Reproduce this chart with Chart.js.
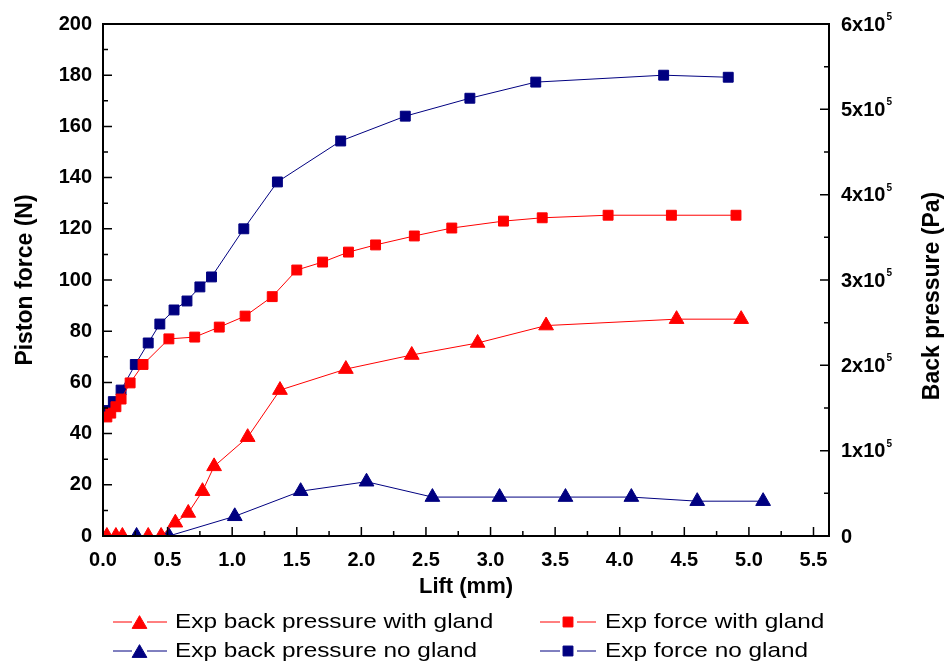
<!DOCTYPE html>
<html>
<head>
<meta charset="utf-8">
<script src="https://cdn.jsdelivr.net/npm/chart.js@4.4.0/dist/chart.umd.min.js"></script>
<style>
  html, body { margin: 0; padding: 0; background: #fff; }
</style>
</head>
<body>
<canvas id="liftChart" width="947" height="668"></canvas>
<script>
// tick values
const xTicks = [0, 0.5, 1.0, 1.5, 2.0, 2.5, 3.0, 3.5, 4.0, 4.5, 5.0, 5.5];
const forceTicks = [0, 20, 40, 60, 80, 100, 120, 140, 160, 180, 200];
const pressureTicks = [0, 1e5, 2e5, 3e5, 4e5, 5e5, 6e5];

// Exp back pressure with gland (Pa)
const bpWithLift = [0.03, 0.10, 0.15, 0.35, 0.45, 0.56, 0.66, 0.77, 0.86, 1.12, 1.37, 1.88, 2.39, 2.90, 3.43, 4.44, 4.94];
const bpWith = [0, 0, 0, 0, 0, 15600, 27000, 52500, 81600, 115800, 171000, 195600, 212100, 226200, 246600, 254100, 254100];

// Exp force with gland (N)
const forceWithLift = [0.03, 0.06, 0.10, 0.14, 0.21, 0.31, 0.51, 0.71, 0.90, 1.10, 1.31, 1.50, 1.70, 1.90, 2.11, 2.41, 2.70, 3.10, 3.40, 3.91, 4.40, 4.90];
const forceWith = [46.5, 48, 50.5, 53.5, 59.8, 67, 77, 77.7, 81.6, 85.9, 93.5, 103.9, 107, 110.9, 113.7, 117.2, 120.3, 123, 124.3, 125.3, 125.3, 125.3];

// Exp back pressure no gland (Pa)
const bpNoLift = [0.26, 0.51, 1.02, 1.53, 2.04, 2.55, 3.07, 3.58, 4.09, 4.60, 5.11];
const bpNo = [0, 0, 23100, 52500, 63600, 45600, 45600, 45600, 45600, 40800, 40800];

// Exp force no gland (N)
const forceNoLift = [0.02, 0.04, 0.08, 0.14, 0.25, 0.35, 0.44, 0.55, 0.65, 0.75, 0.84, 1.09, 1.35, 1.84, 2.34, 2.84, 3.35, 4.34, 4.84];
const forceNo = [47, 49, 52.5, 57, 67, 75.4, 82.8, 88.3, 91.8, 97.3, 101.2, 120, 138.3, 154.3, 164, 171, 177.3, 180, 179.2];

const RED = '#ff0000';
const NAVY = '#000080';

function pts(xs, ys) {
    return xs.map((x, i) => ({ x: x, y: ys[i] }));
}

function series(label, xs, ys, color, style, axis) {
    return {
        label: label,
        data: pts(xs, ys),
        yAxisID: axis,
        borderColor: color,
        backgroundColor: color,
        borderWidth: 1,
        pointStyle: style,
        pointRadius: style === 'triangle' ? 8.5 : 7,
        pointBorderWidth: 1,
        pointBackgroundColor: color,
        pointBorderColor: color,
        tension: 0
    };
}

const datasets = [
    series('Exp back pressure with gland', bpWithLift, bpWith, RED, 'triangle', 'yPressure'),
    series('Exp force with gland', forceWithLift, forceWith, RED, 'rect', 'yForce'),
    series('Exp back pressure no gland', bpNoLift, bpNo, NAVY, 'triangle', 'yPressure'),
    series('Exp force no gland', forceNoLift, forceNo, NAVY, 'rect', 'yForce')
];

const FONT = '"Liberation Sans", Arial, sans-serif';

// frame, inward ticks, right axis labels/title and legend
const framePlugin = {
    id: 'frame',
    afterDraw(chart) {
        const ctx = chart.ctx;
        const { left, top, right, bottom } = chart.chartArea;
        const sx = chart.scales.x, sf = chart.scales.yForce, sp = chart.scales.yPressure;
        ctx.save();
        ctx.strokeStyle = '#000';
        ctx.lineWidth = 2;
        ctx.strokeRect(left, top, right - left, bottom - top);

        ctx.lineWidth = 1.5;
        ctx.beginPath();
        xTicks.forEach(v => {
            const px = sx.getPixelForValue(v);
            ctx.moveTo(px, bottom); ctx.lineTo(px, bottom - 9);
            if (v + 0.25 < sx.max) {
                const mx = sx.getPixelForValue(v + 0.25);
                ctx.moveTo(mx, bottom); ctx.lineTo(mx, bottom - 5);
            }
        });
        forceTicks.forEach(v => {
            const py = sf.getPixelForValue(v);
            ctx.moveTo(left, py); ctx.lineTo(left + 9, py);
            if (v + 10 < sf.max) {
                const my = sf.getPixelForValue(v + 10);
                ctx.moveTo(left, my); ctx.lineTo(left + 5, my);
            }
        });
        pressureTicks.forEach(v => {
            const py = sp.getPixelForValue(v);
            ctx.moveTo(right, py); ctx.lineTo(right - 9, py);
            if (v + 5e4 < sp.max) {
                const my = sp.getPixelForValue(v + 5e4);
                ctx.moveTo(right, my); ctx.lineTo(right - 5, my);
            }
        });
        ctx.stroke();

        // right tick labels with superscript exponent
        ctx.fillStyle = '#000';
        ctx.textAlign = 'left';
        pressureTicks.forEach(v => {
            const py = sp.getPixelForValue(v);
            const lx = right + 12;
            ctx.font = 'bold 20px ' + FONT;
            ctx.textBaseline = 'middle';
            if (v === 0) {
                ctx.fillText('0', lx, py + 1);
                return;
            }
            const main = (v / 1e5) + 'x10';
            ctx.fillText(main, lx, py + 1);
            const w = ctx.measureText(main).width;
            ctx.font = 'bold 10px ' + FONT;
            ctx.textBaseline = 'alphabetic';
            ctx.fillText('5', lx + w + 1, py - 4);
        });

        // right axis title, reading bottom to top
        ctx.save();
        ctx.translate(933, 296);
        ctx.rotate(-Math.PI / 2);
        ctx.font = 'bold 23px ' + FONT;
        ctx.textAlign = 'center';
        ctx.textBaseline = 'middle';
        ctx.fillText('Back pressure (Pa)', 0, 0);
        ctx.restore();

        // legend in two columns
        const cols = [{ l1: 113, l2: 132, m: 139.5, r1: 147, r2: 167, t: 175 },
                      { l1: 540, l2: 560, m: 568, r1: 577, r2: 596, t: 605 }];
        const rows = [622, 651];
        datasets.forEach((ds, i) => {
            const c = cols[i % 2];
            const y = rows[Math.floor(i / 2)];
            ctx.strokeStyle = ds.borderColor;
            ctx.lineWidth = 1;
            ctx.beginPath();
            ctx.moveTo(c.l1, y); ctx.lineTo(c.l2, y);
            ctx.moveTo(c.r1, y); ctx.lineTo(c.r2, y);
            ctx.stroke();
            ctx.fillStyle = ds.pointBackgroundColor;
            const r = ds.pointRadius;
            Chart.helpers.drawPoint(ctx, {
                pointStyle: ds.pointStyle, radius: r, borderWidth: 1, rotation: 0
            }, c.m, ds.pointStyle === 'triangle' ? y + r / 4 : y);
            ctx.save();
            ctx.translate(c.t, y);
            ctx.scale(1.16, 1);
            ctx.fillStyle = '#000';
            ctx.font = '21px ' + FONT;
            ctx.textAlign = 'left';
            ctx.textBaseline = 'middle';
            ctx.fillText(ds.label, 0, 0);
            ctx.restore();
        });
        ctx.restore();
    }
};

const ctx = document.getElementById('liftChart').getContext('2d');
const liftChart = new Chart(ctx, {
    type: 'line',
    data: { datasets: datasets },
    plugins: [framePlugin],
    options: {
        responsive: false,
        animation: false,
        layout: { padding: { top: 24, bottom: 68, left: 0, right: 0 } },
        plugins: {
            legend: { display: false },
            tooltip: { enabled: false }
        },
        scales: {
            x: {
                type: 'linear',
                position: 'bottom',
                min: 0,
                max: 5.62,
                grid: { display: false, drawTicks: false },
                border: { display: false },
                afterBuildTicks: axis => { axis.ticks = xTicks.map(v => ({ value: v })); },
                afterFit: axis => { axis.height = 64; },
                ticks: {
                    color: '#000',
                    padding: 12,
                    maxRotation: 0,
                    autoSkip: false,
                    font: { family: FONT, size: 20, weight: 'bold' },
                    callback: v => v.toFixed(1)
                },
                title: {
                    display: true,
                    text: 'Lift (mm)',
                    color: '#000',
                    padding: { top: 0, bottom: 0 },
                    font: { family: FONT, size: 22, weight: 'bold' }
                }
            },
            yForce: {
                type: 'linear',
                position: 'left',
                min: 0,
                max: 200,
                grid: { display: false, drawTicks: false },
                border: { display: false },
                afterBuildTicks: axis => { axis.ticks = forceTicks.map(v => ({ value: v })); },
                afterFit: axis => { axis.width = 103; },
                ticks: {
                    color: '#000',
                    padding: 11,
                    font: { family: FONT, size: 20, weight: 'bold' }
                },
                title: {
                    display: true,
                    text: 'Piston force (N)',
                    color: '#000',
                    padding: { top: 12, bottom: 0 },
                    font: { family: FONT, size: 23, weight: 'bold' }
                }
            },
            yPressure: {
                type: 'linear',
                position: 'right',
                min: 0,
                max: 6e5,
                grid: { display: false, drawTicks: false },
                border: { display: false },
                afterBuildTicks: axis => { axis.ticks = pressureTicks.map(v => ({ value: v })); },
                afterFit: axis => { axis.width = 118; },
                ticks: { display: false }
            }
        }
    }
});
</script>
</body>
</html>
